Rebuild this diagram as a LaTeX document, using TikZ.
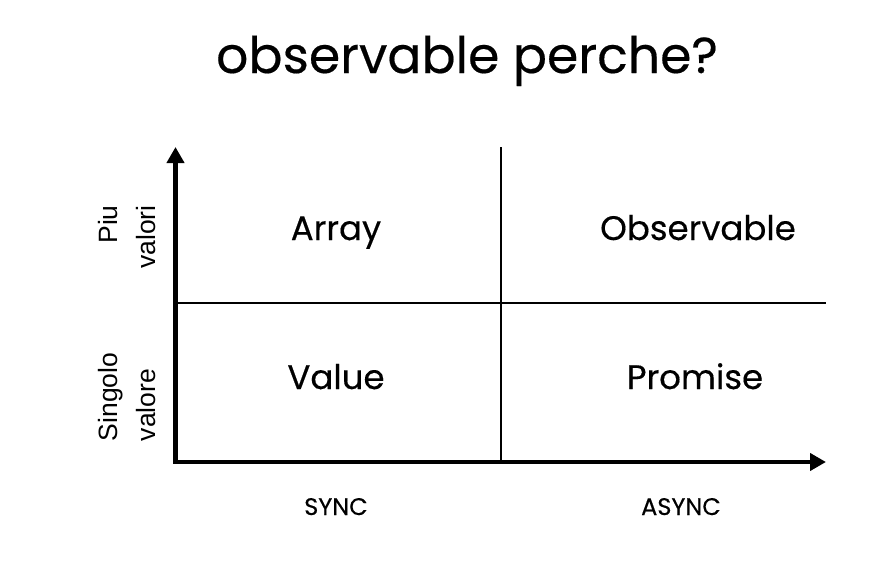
\documentclass[tikz,border=0pt]{standalone}
\usepackage{fontspec}
\setmainfont{Poppins}[FakeBold=0.35]
\newfontfamily\labelfont{Liberation Sans}
\usetikzlibrary{arrows.meta}
\begin{document}
\begin{tikzpicture}[x=1pt,y=-1pt,
  axis/.style={line width=4.5pt,-{Triangle[length=16pt,width=17pt]}},
  divider/.style={line width=1.8pt},
  cell/.style={font=\fontsize{34}{40}\selectfont,anchor=base},
  axislabel/.style={font=\fontsize{24}{28}\selectfont,anchor=base},
  sidelabel/.style={font=\labelfont\fontsize{26.5}{38}\selectfont,rotate=90,inner sep=0pt}]
  \useasboundingbox (0,0) rectangle (876,570);
  \fill[white] (0,0) rectangle (876,570);

  % title
  \node[anchor=base] (title) at (467,73) {\fontsize{50.5}{58}\selectfont observable perche?};

  % axes
  \coordinate (origin) at (175.5,462);
  \coordinate (ytip) at (175.5,147);
  \coordinate (xtip) at (826,462);
  \coordinate (midtop) at (501,147);
  \coordinate (midbot) at (501,462);
  \coordinate (rowl) at (177,303);
  \coordinate (rowr) at (826,303);
  \draw[divider] (midtop) -- (midbot);
  \draw[divider] (rowl) -- (rowr);
  \draw[axis] ([yshift=2.25pt]origin) -- (ytip);
  \draw[axis] ([xshift=-2.25pt]origin) -- (xtip);

  % quadrants
  \node[cell] (array) at (336,240) {Array};
  \node[cell] (observable) at (698,240) {Observable};
  \node[cell] (value) at (336,389) {Value};
  \node[cell] (promise) at (695,389) {Promise};

  % axis labels
  \node[axislabel] (sync) at (336,515) {SYNC};
  \node[axislabel] (async) at (681,515) {ASYNC};
  \node[sidelabel,align=right] (multi) at (127,237) {Piu\\valori};
  \node[sidelabel,align=left] (single) at (127,397) {Singolo\\valore};
\end{tikzpicture}
\end{document}
